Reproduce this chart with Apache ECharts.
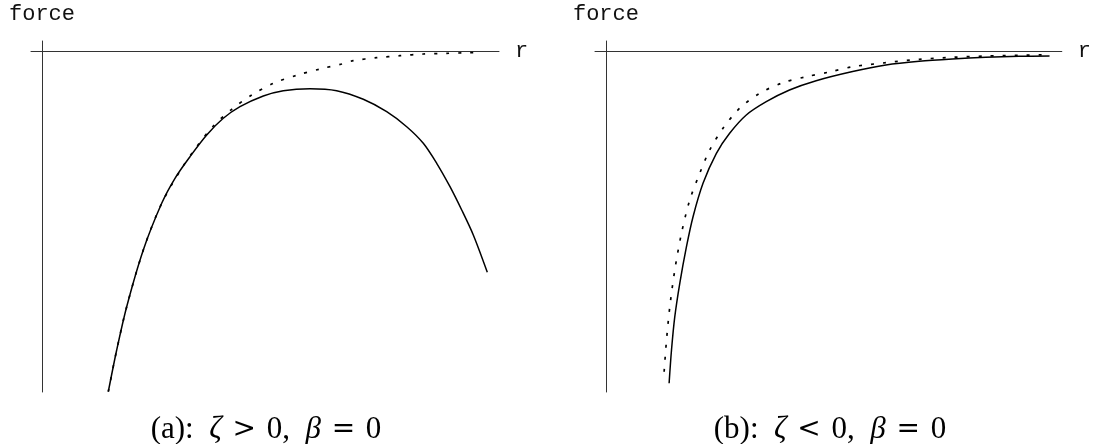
<!DOCTYPE html>
<html>
<head>
<meta charset="utf-8">
<script src="https://cdn.jsdelivr.net/npm/echarts@6/dist/echarts.min.js"></script>
<style>
  html, body { margin: 0; padding: 0; background: #fff; }
  #chart { width: 1094px; height: 444px; }
</style>
</head>
<body>
<div id="chart"></div>
<script>
// values, arbitrary units (r, force)
const leftSolid = [
  [6.63, -34.07], [7.47, -29.9], [8.47, -25.57], [10.13, -19.9], [11.97, -15.23],
  [13.3, -12.73], [14.8, -10.57], [16.47, -8.4], [18.13, -6.73], [19.8, -5.57],
  [22.13, -4.5], [24.13, -3.97], [26.8, -3.77], [29.47, -3.97], [32.13, -4.83],
  [34.47, -6.07], [36.47, -7.57], [38.13, -9.23], [39.47, -11.23], [40.8, -13.57],
  [41.97, -15.9], [43.13, -18.4], [44.53, -22.13]
]
const leftDotted = [
  [6.63, -34.07], [7.47, -29.9], [8.47, -25.57], [10.13, -19.9], [11.97, -15.23],
  [13.97, -11.73], [15.47, -9.57], [17.13, -7.5], [18.97, -5.83], [20.97, -4.4],
  [23.13, -3.23], [25.47, -2.43], [27.8, -1.8], [29.97, -1.3], [31.13, -0.97],
  [33.47, -0.67], [35.8, -0.47], [38.13, -0.3], [40.47, -0.23], [42.8, -0.17],
  [43.97, -0.13]
]
const rightSolid = [
  [6.33, -33.23], [6.57, -29.9], [6.9, -26.57], [7.4, -23.23], [8.07, -19.57],
  [8.73, -16.57], [9.73, -13.23], [11.07, -10.23], [12.4, -8.23], [14.07, -6.4],
  [16.07, -5.07], [18.4, -3.9], [21.07, -2.97], [24.73, -2.05], [28.07, -1.4],
  [31.4, -1.03], [34.73, -0.8], [38.07, -0.63], [41.4, -0.53], [44.47, -0.5]
]
const rightDotted = [
  [5.83, -32.07], [6.07, -28.9], [6.4, -25.57], [6.9, -21.9], [7.57, -18.23],
  [8.4, -14.9], [9.4, -12.23], [10.4, -9.9], [11.73, -7.73], [13.4, -5.73],
  [15.4, -4.23], [17.73, -3.17], [20.07, -2.57], [22.4, -2.1], [24.73, -1.57],
  [28.07, -1.17], [31.4, -0.83], [34.73, -0.63], [38.07, -0.5], [41.4, -0.43],
  [44.4, -0.37]
]
const captions = [
  '(a):  {i|ζ} {rel|>} 0,  {i|β} {rel|=} 0',
  '(b):  {i|ζ} {rel|<} 0,  {i|β} {rel|=} 0'
]

const mono = 'Liberation Mono'
const axisLine = { onZero: true, lineStyle: { color: '#333', width: 1 } }

function xAx(gridIndex) {
  return {
    type: 'value', gridIndex, min: -1.1, max: 45.7,
    name: 'r', nameLocation: 'end', nameGap: 16,
    nameTextStyle: { fontFamily: mono, fontSize: 22, color: '#111' },
    axisLine, axisTick: { show: false }, axisLabel: { show: false }, splitLine: { show: false }
  }
}
function yAx(gridIndex) {
  return {
    type: 'value', gridIndex, min: -34.1, max: 1.0,
    name: 'force', nameLocation: 'end', nameGap: 16,
    nameTextStyle: { fontFamily: mono, fontSize: 22, color: '#111' },
    axisLine, axisTick: { show: false }, axisLabel: { show: false }, splitLine: { show: false }
  }
}
function line(data, idx, dotted) {
  return {
    type: 'line', xAxisIndex: idx, yAxisIndex: idx, data,
    symbol: 'none', smooth: 0.3, silent: true,
    lineStyle: dotted
      ? { color: '#000', width: 1.7, type: [3, 9] }
      : { color: '#000', width: 1.5 }
  }
}
function caption(text, x) {
  return {
    type: 'text', x, y: 445,
    style: {
      text, fill: '#000', fontFamily: 'Liberation Serif', fontSize: 31,
      align: 'center', verticalAlign: 'bottom',
      rich: {
        i: { fontFamily: 'Liberation Serif', fontStyle: 'italic', fontSize: 31 },
        rel: { fontFamily: 'DejaVu Serif', fontSize: 28, padding: [0, 3] }
      }
    }
  }
}

const option = {
  animation: false,
  backgroundColor: '#fff',
  grid: [
    { left: 31, width: 468, top: 41, height: 351 },
    { left: 595, width: 468, top: 41, height: 351 }
  ],
  xAxis: [xAx(0), xAx(1)],
  yAxis: [yAx(0), yAx(1)],
  series: [
    line(leftDotted, 0, true),
    line(leftSolid, 0, false),
    line(rightDotted, 1, true),
    line(rightSolid, 1, false)
  ],
  graphic: [caption(captions[0], 266), caption(captions[1], 830)]
}

const chart = echarts.init(document.getElementById('chart'))
chart.setOption(option)
</script>
</body>
</html>
